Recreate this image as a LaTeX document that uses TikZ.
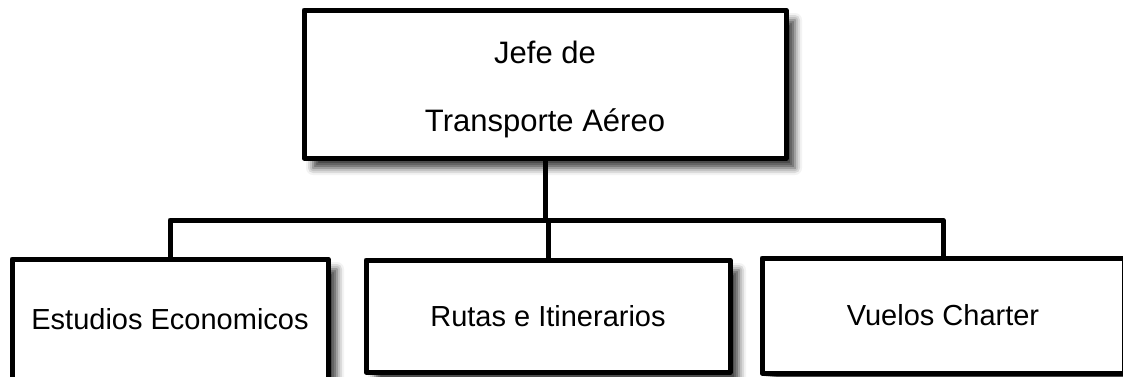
\documentclass[tikz,border=0pt]{standalone}
\usepackage{fontspec}
\setmainfont{Liberation Sans}
\usetikzlibrary{shadows.blur}
\begin{document}
\begin{tikzpicture}[x=1pt,y=-1pt,
  box/.style={draw=black, line width=5pt, fill=white, line join=round,
    blur shadow={shadow xshift=9pt, shadow yshift=-10pt, shadow blur radius=7pt, shadow opacity=75},
    inner sep=0pt, align=center, font=\fontsize{29}{34}\selectfont},
  conn/.style={line width=5pt, line join=round, line cap=rect},
  toptext/.style={inner sep=0pt, align=center, font=\fontsize{31}{68}\selectfont}]
\useasboundingbox (0,0) rectangle (1123,376);
\clip (0,0) rectangle (1123,376);
\node[box, minimum width=482pt, minimum height=148pt] (top) at (545,84) {};
\node[toptext] (toplabel) at (545,89) {Jefe de\\Transporte Aéreo};
\node[box, minimum width=316pt, minimum height=121pt] (b1) at (170,319.5) {Estudios Economicos};
\node[box, minimum width=364pt, minimum height=112pt] (b2) at (548,316) {Rutas e Itinerarios};
\node[box, minimum width=362pt, minimum height=115pt] (b3) at (943,315.5) {Vuelos Charter};
\coordinate (j) at (545,220);
\draw[conn] (top.south) -- (top.south |- j);
\draw[conn] (b1.north) -- (b1.north |- j) -- (b3.north |- j) -- (b3.north);
\draw[conn] (b2.north) -- (b2.north |- j);
\end{tikzpicture}
\end{document}
